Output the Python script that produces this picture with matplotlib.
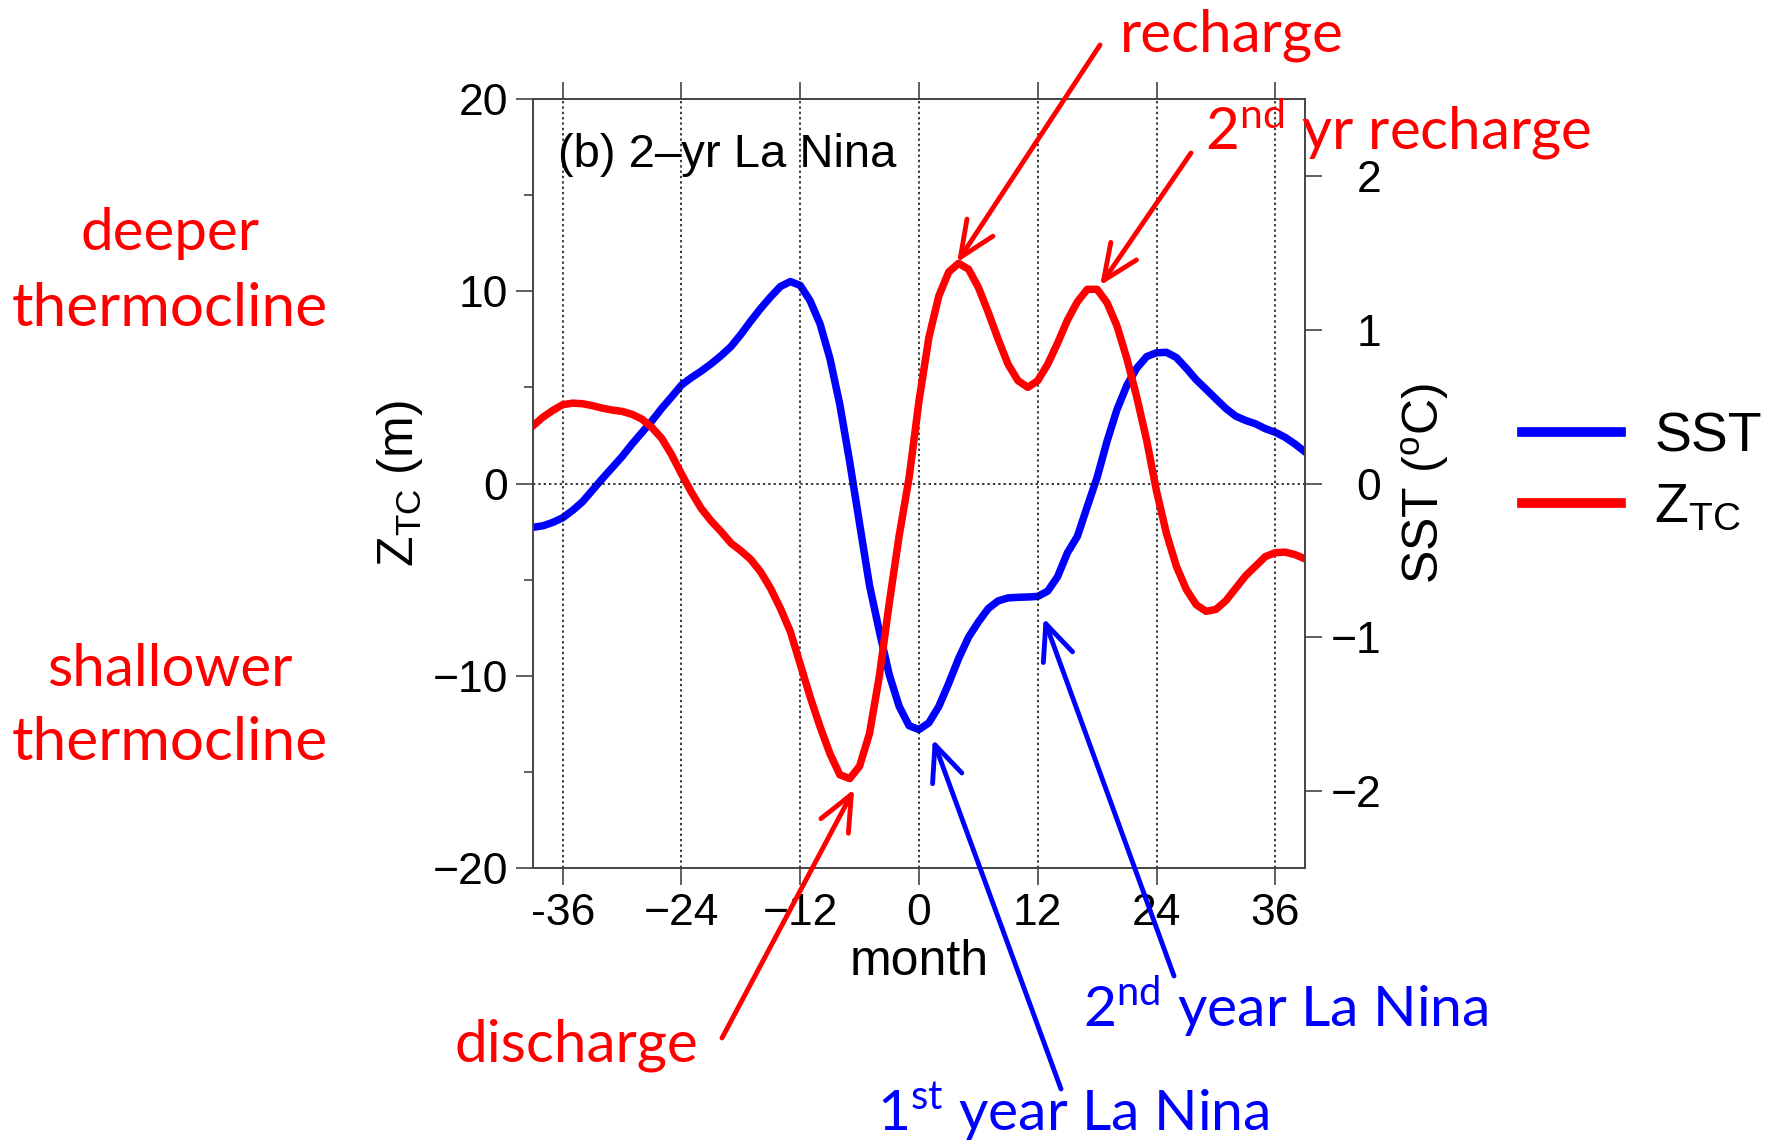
import numpy as np
import matplotlib
matplotlib.use('Agg')
import matplotlib.pyplot as plt

# composite: months relative to La Nina peak
months = np.arange(-39, 40)

# thermocline depth anomaly Z_TC (m), left axis
ztc = [3.0, 3.45, 3.8, 4.1, 4.18, 4.15, 4.05, 3.92, 3.82, 3.75,
       3.6, 3.35, 2.92, 2.35, 1.5, 0.5, -0.45, -1.3, -1.95, -2.5,
       -3.1, -3.5, -3.95, -4.6, -5.45, -6.5, -7.7, -9.4, -11.1, -12.65,
       -14.05, -15.15, -15.35, -14.7, -13.0, -10.0, -6.2, -2.7, 0.3,
       4.3,
       7.6, 9.75, 11.0, 11.45, 11.15, 10.2, 8.9, 7.5, 6.2, 5.35,
       5.0, 5.35, 6.2, 7.3, 8.5, 9.45, 10.1, 10.1, 9.4, 8.2,
       6.5, 4.5, 2.25, -0.4, -2.6, -4.3, -5.5, -6.3, -6.65, -6.55,
       -6.1, -5.45, -4.8, -4.3, -3.8, -3.6, -3.57, -3.7, -3.92]

# SST anomaly (degC), right axis
sst = [-0.285, -0.275, -0.253, -0.223, -0.175, -0.119, -0.044, 0.031, 0.103, 0.175,
       0.256, 0.331, 0.406, 0.488, 0.563, 0.640, 0.688, 0.731, 0.778, 0.831,
       0.890, 0.969, 1.056, 1.138, 1.213, 1.281, 1.313, 1.288, 1.188, 1.038,
       0.813, 0.513, 0.14, -0.263, -0.663, -0.963, -1.244, -1.450, -1.575,
       -1.600,
       -1.556, -1.450, -1.300, -1.138, -1.000, -0.900, -0.813, -0.763, -0.744, -0.740,
       -0.738, -0.734, -0.700, -0.606, -0.45, -0.344, -0.15, 0.04, 0.275, 0.48,
       0.638, 0.750, 0.825, 0.850, 0.853, 0.819, 0.750, 0.675, 0.613, 0.550,
       0.488, 0.438, 0.410, 0.388, 0.356, 0.333, 0.300, 0.256, 0.206]

xticks = [-36, -24, -12, 0, 12, 24, 36]
xticklabels = ['-36', '\u221224', '\u221212', '0', '12', '24', '36']
zticks = [-20, -10, 0, 10, 20]
zticklabels = ['\u221220', '\u221210', '0', '10', '20']
sstticks = [-2, -1, 0, 1, 2]
sstticklabels = ['\u22122', '\u22121', '0', '1', '2']

plt.rcParams['font.family'] = 'Liberation Sans'
plt.rcParams['mathtext.fontset'] = 'custom'
plt.rcParams['mathtext.rm'] = 'Liberation Sans'
plt.rcParams['mathtext.it'] = 'Liberation Sans:italic'
plt.rcParams['mathtext.sf'] = 'Lato'

W, H = 1779, 1140
fig = plt.figure(figsize=(W / 100, H / 100), dpi=100)
ax = fig.add_axes([533 / W, 1 - 868 / H, 772 / W, 769 / H])
ax2 = ax.twinx()
# red curve drawn above the blue one
ax.set_zorder(ax2.get_zorder() + 1)
ax.patch.set_visible(False)

RED = '#ff0000'
BLUE = '#0000ff'
SPINE = '#444444'

ln_sst, = ax2.plot(months, sst, color=BLUE, lw=5.4, solid_joinstyle='round', label='SST')
ln_z, = ax.plot(months, ztc, color=RED, lw=5.4, solid_joinstyle='round',
                label=r'$\mathrm{Z_{TC}}$')

ax.set_xlim(-39, 39)
ax.set_ylim(-20, 20)
ax2.set_ylim(-2.5, 2.5)

# grid: dotted verticals at month ticks, dotted zero line
for xt in xticks:
    ax.axvline(xt, color='k', ls=(0, (1.5, 2)), lw=1.1, zorder=0)
ax.axhline(0, color='k', ls=(0, (1.5, 2)), lw=1.1, zorder=0)

ax.set_xticks(xticks)
ax.set_xticklabels(xticklabels)
ax.set_yticks(zticks)
ax.set_yticklabels(zticklabels)
ax.set_yticks([-15, -5, 5, 15], minor=True)
ax2.set_yticks(sstticks)
ax2.set_yticklabels(sstticklabels)

ax.tick_params(axis='x', which='both', top=True, direction='out', length=12,
               width=1.2, color=SPINE, pad=6, labelsize=32)
ax.tick_params(axis='y', which='major', direction='out', length=12, width=1.2,
               color=SPINE, pad=6, labelsize=32)
ax.tick_params(axis='y', which='minor', direction='out', length=6.5, width=1.2,
               color=SPINE)
ax2.tick_params(axis='y', direction='out', length=12, width=1.2, color=SPINE,
                pad=43, labelsize=32)
for t in ax2.get_yticklabels():
    t.set_horizontalalignment('right')

for a in (ax, ax2):
    for s in a.spines.values():
        s.set_color(SPINE)
        s.set_linewidth(1.2)

ax.set_xlabel('month', fontsize=36)
ax.xaxis.set_label_coords(0.5, -0.092)
ax.set_ylabel(r'$\mathrm{Z_{TC}}$ (m)', fontsize=36)
ax.yaxis.set_label_coords(-0.14, 0.5)
ax2.set_ylabel(r'SST ($\mathrm{^{o}}$C)', fontsize=36)
ax2.yaxis.set_label_coords(1.122, 0.5)

ax.text(0.033, 0.912, '(b) 2\u2013yr La Nina', transform=ax.transAxes,
        fontsize=34, va='baseline', ha='left')

leg = ax.legend(handles=[ln_sst, ln_z], loc='center left',
                bbox_to_anchor=(1522 / W, 1 - 473 / H), bbox_transform=fig.transFigure,
                frameon=False, fontsize=40, handlelength=1.78, handletextpad=0.6,
                labelspacing=0.35, borderpad=0, borderaxespad=0)
for l in leg.get_lines():
    l.set_linewidth(7)

# annotations (Calibri-like text)
tf = dict(family='Lato', fontsize=42, va='baseline')
tb = dict(family='Lato', fontsize=41, va='baseline')


def fpos(px, py):
    return px / W, 1 - py / H


fig.text(*fpos(170, 250), 'deeper', color=RED, ha='center', **tf)
fig.text(*fpos(170, 326), 'thermocline', color=RED, ha='center', family='Lato',
         fontsize=43.5, va='baseline')
fig.text(*fpos(170, 686), 'shallower', color=RED, ha='center', **tf)
fig.text(*fpos(170, 760), 'thermocline', color=RED, ha='center', family='Lato',
         fontsize=43.5, va='baseline')
fig.text(*fpos(1120, 52), 'recharge', color=RED, ha='left', **tf)
fig.text(*fpos(1205, 149), r'2$^{\mathsf{nd}}$ yr recharge', color=RED, ha='left', **tf)
fig.text(*fpos(454, 1061), 'discharge', color=RED, ha='left', **tf)
fig.text(*fpos(1083, 1027), r'2$^{\mathsf{nd}}$ year La Nina', color=BLUE, ha='left', **tb)
fig.text(*fpos(877, 1131), r'1$^{\mathsf{st}}$ year La Nina', color=BLUE, ha='left', **tb)


def arrow(tip, tail, color):
    ax.annotate('', xy=tip, xycoords='data',
                xytext=(tail[0], H - tail[1]), textcoords='figure pixels',
                annotation_clip=False,
                arrowprops=dict(arrowstyle='->,head_length=0.8,head_width=0.35',
                                color=color, lw=3.5, mutation_scale=32,
                                shrinkA=0, shrinkB=0))


arrow((3.85, 11.5), (1100, 45), RED)
arrow((18.3, 10.3), (1191, 153), RED)
arrow((-6.55, -15.9), (722, 1038), RED)
arrow((1.4, -13.3), (1061, 1089), BLUE)
arrow((12.6, -7.0), (1174, 976), BLUE)

fig.savefig('out.png', dpi=100)
